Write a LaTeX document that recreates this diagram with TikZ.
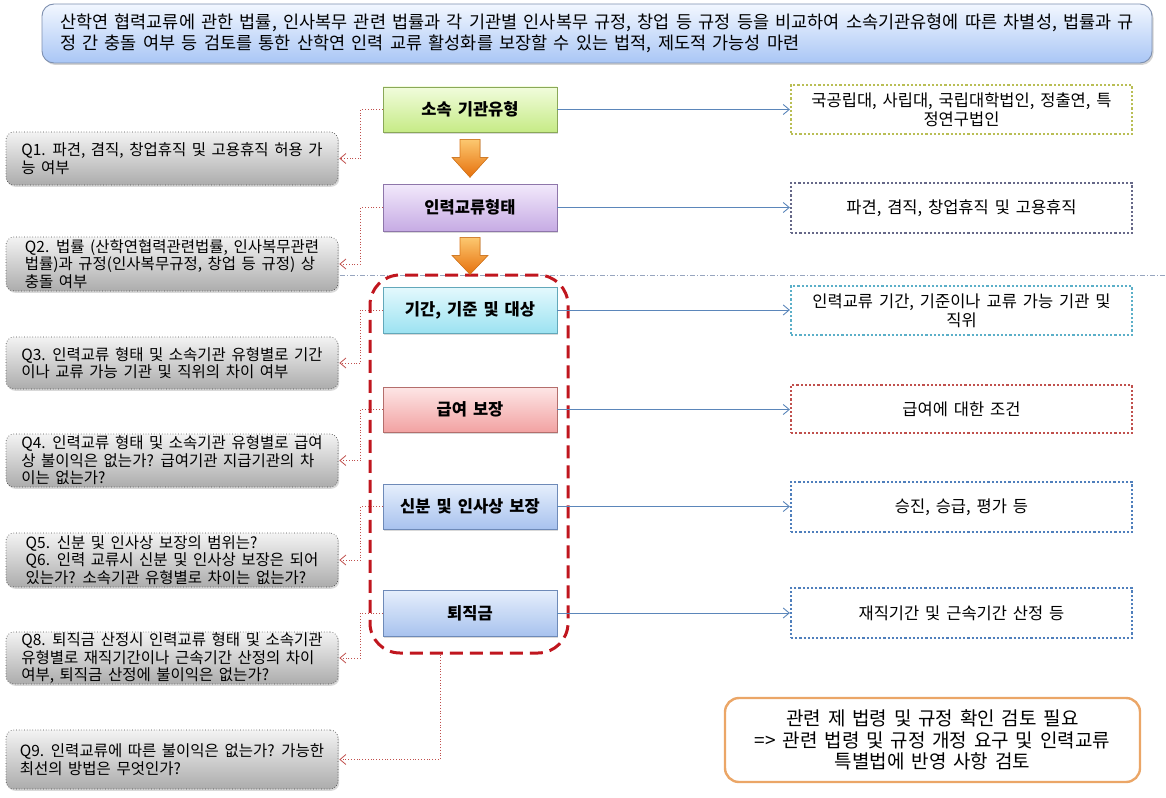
\documentclass[tikz,border=0pt]{standalone}
\usepackage{fontspec}
\setmainfont{Noto Sans CJK KR}[WordSpace=1.6]
\usetikzlibrary{shadows,arrows.meta,calc}
\definecolor{bannerTop}{HTML}{F2F7FF}
\definecolor{bannerBot}{HTML}{A9C6F5}
\definecolor{bannerLine}{HTML}{7D8FAF}
\definecolor{qTop}{HTML}{F3F3F3}
\definecolor{qBot}{HTML}{ACACAC}
\definecolor{qLine}{HTML}{4A4A4A}
\definecolor{connRed}{HTML}{C0504D}
\definecolor{connBlue}{HTML}{5B86BA}
\definecolor{grpRed}{HTML}{C0161E}
\definecolor{gTop}{HTML}{F1FCDC}\definecolor{gBot}{HTML}{C6EB86}\definecolor{gLine}{HTML}{8AA858}
\definecolor{pTop}{HTML}{F2E9FB}\definecolor{pBot}{HTML}{C6ABE4}\definecolor{pLine}{HTML}{8E76AA}
\definecolor{cTop}{HTML}{E4F9FD}\definecolor{cBot}{HTML}{9CE2F1}\definecolor{cLine}{HTML}{62A8BA}
\definecolor{rTop}{HTML}{FDE6E6}\definecolor{rBot}{HTML}{F2A2A2}\definecolor{rLine}{HTML}{B46E6C}
\definecolor{bTop}{HTML}{E6EFFC}\definecolor{bBot}{HTML}{A8C2EE}\definecolor{bLine}{HTML}{6E8AB8}
\definecolor{oTop}{HTML}{FCC870}\definecolor{oBot}{HTML}{E6700C}\definecolor{oLine}{HTML}{D9781C}
\definecolor{rb1}{HTML}{B9BE55}
\definecolor{rb2}{HTML}{666888}
\definecolor{rb3}{HTML}{5BAFC8}
\definecolor{rb4}{HTML}{C0504D}
\definecolor{rb5}{HTML}{4F7FBC}
\definecolor{noteLine}{HTML}{EBA667}
\begin{document}
\begin{tikzpicture}[x=1pt,y=-1pt,
  banner/.style={draw=bannerLine, line width=0.9pt, rounded corners=12pt,
    top color=bannerTop, bottom color=bannerBot,
    drop shadow={shadow xshift=1.5pt, shadow yshift=-2pt, opacity=0.35},
    align=left, inner sep=0pt, font=\fontsize{17.5}{20.5}\selectfont},
  cbox/.style={draw=#1Line, line width=0.7pt, top color=#1Top, bottom color=#1Bot,
    drop shadow={shadow xshift=1.2pt, shadow yshift=-1.8pt, opacity=0.3},
    minimum width=174pt, inner sep=0pt, font=\fontsize{16.5}{19}\selectfont\bfseries},
  qbox/.style={draw=qLine, line width=0.7pt, dotted, rounded corners=8pt,
    top color=qTop, bottom color=qBot,
    drop shadow={shadow xshift=1.2pt, shadow yshift=-1.8pt, opacity=0.3},
    minimum width=332pt, inner sep=0pt, align=left,
    font=\fontsize{15.5}{17.5}\selectfont},
  rbox/.style={draw=#1, line width=2.2pt, dash pattern=on 2.2pt off 2pt,
    fill=white, inner sep=0pt, align=center,
    font=\fontsize{16.5}{19}\selectfont},
  notebox/.style={draw=noteLine, line width=2.4pt, rounded corners=14pt, fill=white,
    inner sep=0pt, align=center, font=\fontsize{19}{21.5}\selectfont},
  grpbox/.style={draw=grpRed, line width=3pt, dash pattern=on 13pt off 7pt,
    rounded corners=30pt, inner sep=0pt},
  qconn/.style={draw=connRed, line width=0.8pt, dotted,
    -{Straight Barb[length=6pt,width=10pt,line width=0.8pt,sep=1pt]}},
  rconn/.style={draw=connBlue, line width=0.9pt,
    -{Straight Barb[length=6pt,width=10pt,line width=0.9pt]}},
  orangearrow/.style={draw=oLine, line width=0.6pt, top color=oTop, bottom color=oBot}
]
\useasboundingbox (0,0) rectangle (1166,797);

% banner
\node[banner, minimum width=1110pt, minimum height=59pt] (ban) at (597,33.5)
{산학연 협력교류에 관한 법률, 인사복무 관련 법률과 각 기관별 인사복무 규정, 창업 등 규정 등을 비교하여 소속기관유형에 따른 차별성, 법률과 규\\정 간 충돌 여부 등 검토를 통한 산학연 인력 교류 활성화를 보장할 수 있는 법적, 제도적 가능성 마련};

% dash-dot separator
\coordinate (sepA) at (340,275);
\coordinate (sepB) at (1166,275);
\draw[bannerLine!80, line width=0.7pt, dash pattern=on 5pt off 2pt on 1pt off 2pt] (sepA) -- (sepB);

% group box
\node[grpbox, minimum width=198pt, minimum height=378pt] (grp) at (469,464) {};

% center boxes
\node[cbox=g, minimum height=45pt] (c1) at (470,109.5) {소속 기관유형};
\node[cbox=p, minimum height=47pt] (c2) at (470,207.5) {인력교류형태};
\node[cbox=c, minimum height=46pt] (c3) at (470,310) {기간, 기준 및 대상};
\node[cbox=r, minimum height=45pt] (c4) at (470,409.5) {급여 보장};
\node[cbox=b, minimum height=45pt] (c5) at (470,506.5) {신분 및 인사상 보장};
\node[cbox=b, minimum height=46pt] (c6) at (470,613) {퇴직금};

% orange arrows
\fill[orangearrow] ($(c1.south)+(-10,7)$) -- ($(c1.south)+(10,7)$) -- ($(c1.south)+(10,25)$)
  -- ($(c1.south)+(18,25)$) -- ($(c1.south)+(0,45)$) -- ($(c1.south)+(-18,25)$)
  -- ($(c1.south)+(-10,25)$) -- cycle;
\fill[orangearrow] ($(c2.south)+(-10,6)$) -- ($(c2.south)+(10,6)$) -- ($(c2.south)+(10,24)$)
  -- ($(c2.south)+(18,24)$) -- ($(c2.south)+(0,43)$) -- ($(c2.south)+(-18,24)$)
  -- ($(c2.south)+(-10,24)$) -- cycle;

% right boxes
\node[rbox=rb1, minimum width=341pt, minimum height=49pt] (r1) at (961.5,109.5) {국공립대, 사립대, 국립대학법인, 정출연, 특\\정연구법인};
\node[rbox=rb2, minimum width=341pt, minimum height=50pt] (r2) at (961.5,208) {파견, 겸직, 창업휴직 및 고용휴직};
\node[rbox=rb3, minimum width=341pt, minimum height=49pt] (r3) at (961.5,310.5) {인력교류 기간, 기준이나 교류 가능 기관 및\\직위};
\node[rbox=rb4, minimum width=341pt, minimum height=48pt] (r4) at (961.5,409) {급여에 대한 조건};
\node[rbox=rb5, minimum width=341pt, minimum height=50pt] (r5) at (961.5,507) {승진, 승급, 평가 등};
\node[rbox=rb5, minimum width=341pt, minimum height=50pt] (r6) at (961.5,613) {재직기간 및 근속기간 산정 등};

% left question boxes
\node[qbox, minimum height=53pt] (q1) at (172,158.5) {Q1. 파견, 겸직, 창업휴직 및 고용휴직 허용 가\\능 여부};
\node[qbox, minimum height=54pt] (q2) at (172,264) {Q2. 법률 (산학연협력관련법률, 인사복무관련\\법률)과 규정(인사복무규정, 창업 등 규정) 상\\충돌 여부};
\node[qbox, minimum height=52pt] (q3) at (172,363) {Q3. 인력교류 형태 및 소속기관 유형별로 기간\\이나 교류 가능 기관 및 직위의 차이 여부};
\node[qbox, minimum height=53pt] (q4) at (172,460.5) {Q4. 인력교류 형태 및 소속기관 유형별로 급여\\상 불이익은 없는가? 급여기관 지급기관의 차\\이는 없는가?};
\node[qbox, minimum height=54pt] (q5) at (172,560) {Q5. 신분 및 인사상 보장의 범위는?\\Q6. 인력 교류시 신분 및 인사상 보장은 되어\\있는가? 소속기관 유형별로 차이는 없는가?};
\node[qbox, minimum height=52pt] (q8) at (172,658) {Q8. 퇴직금 산정시 인력교류 형태 및 소속기관\\유형별로 재직기간이나 근속기간 산정의 차이\\여부, 퇴직금 산정에 불이익은 없는가?};
\node[qbox, minimum height=59pt] (q9) at (172,759.5) {Q9. 인력교류에 따른 불이익은 없는가? 가능한\\최선의 방법은 무엇인가?};

% note box
\node[notebox, minimum width=415pt, minimum height=84pt] (note) at (932.5,740)
{관련 제 법령 및 규정 확인 검토 필요\\=> 관련 법령 및 규정 개정 요구 및 인력교류\\특별법에 반영 사항 검토};

% right connectors
\draw[rconn] (c1.east) -- (c1.east -| r1.west);
\draw[rconn] (c2.east) -- (c2.east -| r2.west);
\draw[rconn] (c3.east) -- (c3.east -| r3.west);
\draw[rconn] (c4.east) -- (c4.east -| r4.west);
\draw[rconn] (c5.east) -- (c5.east -| r5.west);
\draw[rconn] (c6.east) -- (c6.east -| r6.west);

% left connectors
\draw[qconn] (c1.west) -- ++(-22,0) |- (q1.east);
\draw[qconn] (c2.west) -- ++(-22,0) |- (q2.east);
\draw[qconn] (c3.west) -- ++(-22,0) |- (q3.east);
\draw[qconn] (c4.west) -- ++(-22,0) |- (q4.east);
\draw[qconn] (c5.west) -- ++(-22,0) |- (q5.east);
\draw[qconn] (c6.west) -- ++(-22,0) |- (q8.east);
\draw[qconn] ($(grp.south)+(-29,0)$) |- (q9.east);
\end{tikzpicture}
\end{document}
